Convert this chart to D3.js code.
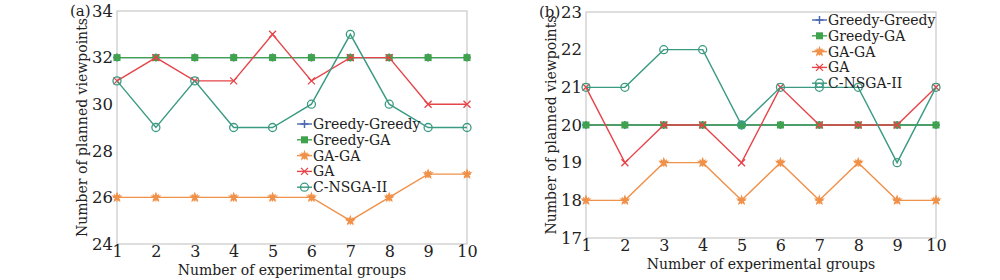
<!DOCTYPE html>
<html>
<head>
<meta charset="utf-8">
<script src="https://cdn.jsdelivr.net/npm/d3@7"></script>
<style>
  body { margin: 0; background: #fff; }
  svg text { font-family: "DejaVu Serif", serif; fill: #222; }
</style>
</head>
<body>
<svg width="1000" height="280"></svg>
<script>
const groups = [1, 2, 3, 4, 5, 6, 7, 8, 9, 10]
const seriesNames = ['Greedy-Greedy', 'Greedy-GA', 'GA-GA', 'GA', 'C-NSGA-II']
const colors = ['#4a68b0', '#3fa34d', '#f0914a', '#e64449', '#3a9a82']
const symbols = ['plus', 'square', 'star', 'cross', 'circle']

// panel (a)
const aGreedyGreedy = [32, 32, 32, 32, 32, 32, 32, 32, 32, 32]
const aGreedyGA = [32, 32, 32, 32, 32, 32, 32, 32, 32, 32]
const aGAGA = [26, 26, 26, 26, 26, 26, 25, 26, 27, 27]
const aGA = [31, 32, 31, 31, 33, 31, 32, 32, 30, 30]
const aCNSGA = [31, 29, 31, 29, 29, 30, 33, 30, 29, 29]
const aTicks = [24, 26, 28, 30, 32, 34]

// panel (b)
const bGreedyGreedy = [20, 20, 20, 20, 20, 20, 20, 20, 20, 20]
const bGreedyGA = [20, 20, 20, 20, 20, 20, 20, 20, 20, 20]
const bGAGA = [18, 18, 19, 19, 18, 19, 18, 19, 18, 18]
const bGA = [21, 19, 20, 20, 19, 21, 20, 20, 20, 21]
const bCNSGA = [21, 21, 22, 22, 20, 21, 21, 21, 19, 21]
const bTicks = [17, 18, 19, 20, 21, 22, 23]

const svg = d3.select('svg')

function marker(g, type, color, x, y) {
  const s = 4
  if (type === 'plus') {
    g.append('path').attr('d', `M${x - s},${y}H${x + s}M${x},${y - s}V${y + s}`)
      .attr('stroke', color).attr('stroke-width', 1.5)
  } else if (type === 'square') {
    g.append('rect').attr('x', x - 3.5).attr('y', y - 3.5).attr('width', 7).attr('height', 7)
      .attr('fill', color)
  } else if (type === 'star') {
    g.append('path').attr('d', d3.symbol(d3.symbolStar, 40)())
      .attr('transform', `translate(${x},${y})`).attr('fill', color)
    g.append('path').attr('d', `M${x - s},${y}H${x + s}M${x},${y - s}V${y + s}M${x - 3},${y - 3}L${x + 3},${y + 3}M${x - 3},${y + 3}L${x + 3},${y - 3}`)
      .attr('stroke', color).attr('stroke-width', 1.2)
  } else if (type === 'cross') {
    g.append('path').attr('d', `M${x - 3.5},${y - 3.5}L${x + 3.5},${y + 3.5}M${x - 3.5},${y + 3.5}L${x + 3.5},${y - 3.5}`)
      .attr('stroke', color).attr('stroke-width', 1.3)
  } else {
    g.append('circle').attr('cx', x).attr('cy', y).attr('r', 4)
      .attr('fill', 'none').attr('stroke', color).attr('stroke-width', 1.3)
  }
}

function panel(opt) {
  const { left, right, top, bottom, ticks, data, label, legendX, legendY } = opt
  const g = svg.append('g')
  const x = d3.scaleLinear().domain([1, 10]).range([left, right])
  const y = d3.scaleLinear().domain([ticks[0], ticks[ticks.length - 1]]).range([bottom, top])

  g.append('rect').attr('x', left).attr('y', top).attr('width', right - left).attr('height', bottom - top)
    .attr('fill', 'none').attr('stroke', '#c8c8c8').attr('stroke-width', 1.2)

  const yAxis = g.append('g').attr('transform', `translate(${left},0)`)
    .call(d3.axisLeft(y).tickValues(ticks).tickFormat(d3.format('d')).tickSize(0).tickPadding(4))
  yAxis.select('.domain').remove()
  yAxis.selectAll('text').attr('font-size', 16.5).attr('font-family', '"Liberation Serif", serif')

  const xAxis = g.append('g').attr('transform', `translate(0,${bottom})`)
    .call(d3.axisBottom(x).tickValues(groups).tickFormat(d3.format('d')).tickSize(0).tickPadding(2))
  xAxis.select('.domain').remove()
  xAxis.selectAll('text').attr('font-size', 16).attr('font-family', '"Liberation Serif", serif')

  g.append('text').attr('x', (left + right) / 2).attr('y', bottom + 31)
    .attr('text-anchor', 'middle').attr('font-size', 14).text('Number of experimental groups')
  g.append('text').attr('transform', `translate(${left - 30},${(top + bottom) / 2}) rotate(-90)`)
    .attr('text-anchor', 'middle').attr('font-size', 14).text('Number of planned viewpoints')
  g.append('text').attr('x', left - 47).attr('y', top + 5).attr('font-size', 15)
    .attr('font-family', '"Liberation Serif", serif').text(label)

  const line = d3.line().x((d, i) => x(groups[i])).y(d => y(d))
  data.forEach((vals, k) => {
    g.append('path').attr('d', line(vals)).attr('fill', 'none')
      .attr('stroke', colors[k]).attr('stroke-width', 1.4)
    const mg = g.append('g')
    vals.forEach((v, i) => marker(mg, symbols[k], colors[k], x(groups[i]), y(v)))
  })

  seriesNames.forEach((name, k) => {
    const ly = legendY + k * 15.8
    g.append('line').attr('x1', legendX).attr('x2', legendX + 15).attr('y1', ly).attr('y2', ly)
      .attr('stroke', colors[k]).attr('stroke-width', 1.4)
    marker(g, symbols[k], colors[k], legendX + 7.5, ly)
    g.append('text').attr('x', legendX + 16).attr('y', ly + 5).attr('font-size', 14).text(name)
  })
}

panel({
  left: 117, right: 467, top: 11, bottom: 244, ticks: aTicks, label: '(a)',
  data: [aGreedyGreedy, aGreedyGA, aGAGA, aGA, aCNSGA], legendX: 297, legendY: 124
})
panel({
  left: 586, right: 936, top: 12, bottom: 238, ticks: bTicks, label: '(b)',
  data: [bGreedyGreedy, bGreedyGA, bGAGA, bGA, bCNSGA], legendX: 812, legendY: 20
})
</script>
</body>
</html>
